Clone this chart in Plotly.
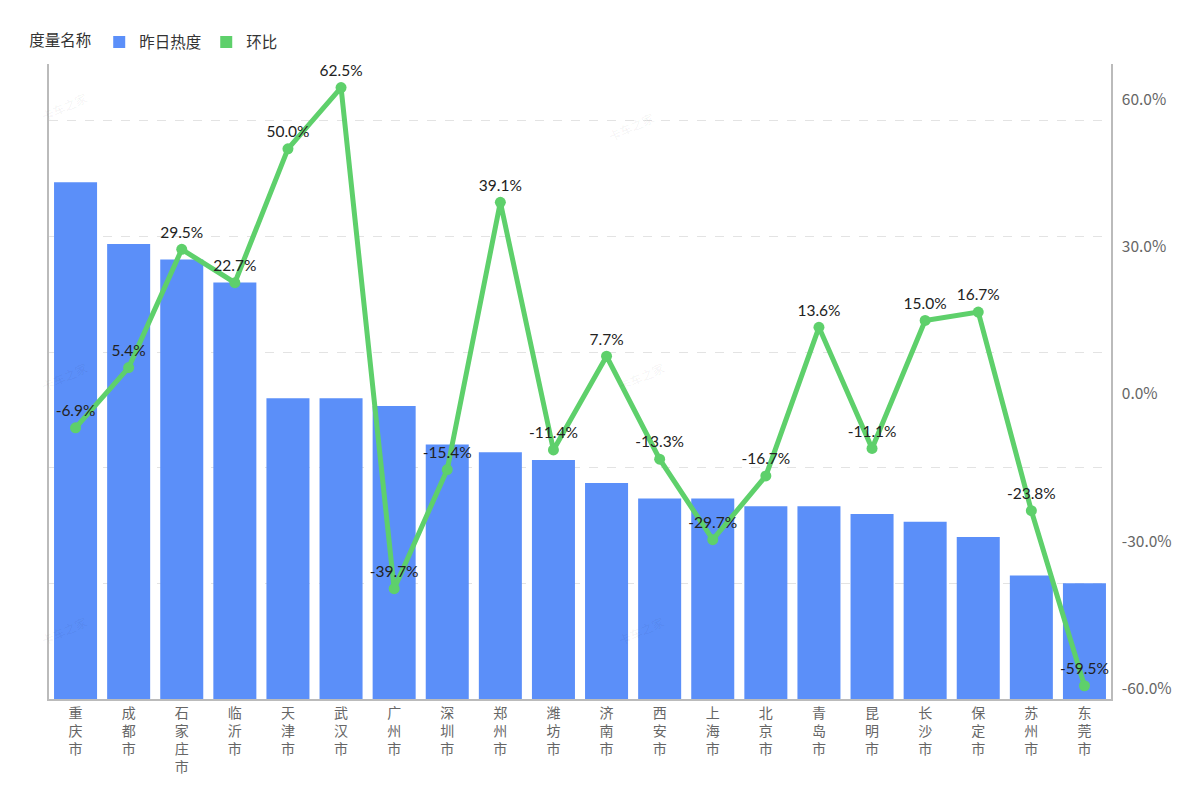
import plotly.graph_objects as go

cities = ["重庆市", "成都市", "石家庄市", "临沂市", "天津市", "武汉市", "广州市", "深圳市", "郑州市", "潍坊市",
          "济南市", "西安市", "上海市", "北京市", "青岛市", "昆明市", "长沙市", "保定市", "苏州市", "东莞市"]
heat = [67, 59, 57, 54, 39, 39, 38, 33, 32, 31, 28, 26, 26, 25, 25, 24, 23, 21, 16, 15]
mom = [-6.9, 5.4, 29.5, 22.7, 50.0, 62.5, -39.7, -15.4, 39.1, -11.4,
       7.7, -13.3, -29.7, -16.7, 13.6, -11.1, 15.0, 16.7, -23.8, -59.5]
right_ticks = [60, 30, 0, -30, -60]

BLUE = "#5B8FF9"
GREEN = "#5ED06B"
FONT = "Noto Sans CJK SC"

tick_text = ["<br>".join(list(c)) for c in cities]

fig = go.Figure()
fig.add_trace(go.Bar(x=cities, y=heat, marker=dict(color=BLUE, line=dict(width=0)),
                     name="昨日热度", showlegend=False, yaxis="y"))
fig.add_trace(go.Scatter(x=cities, y=mom, mode="lines+markers+text", yaxis="y2",
                         line=dict(color=GREEN, width=5), marker=dict(color=GREEN, size=11),
                         text=[f"{v:.1f}%" for v in mom], textposition="top center",
                         textfont=dict(size=15.5, color="#222", family="Lato"),
                         name="环比", showlegend=False, cliponaxis=False))
# legend entries
fig.add_trace(go.Scatter(x=[cities[0]], y=[None], mode="markers", name="昨日热度",
                         marker=dict(symbol="square", size=13, color=BLUE)))
fig.add_trace(go.Scatter(x=[cities[0]], y=[None], mode="markers", name="环比",
                         marker=dict(symbol="square", size=13, color=GREEN)))

dt = 15
L, R, T, B = 41, 97, 56, 109
fig.update_layout(
    width=1200, height=800,
    margin=dict(l=L, r=R, t=T, b=B, autoexpand=False),
    plot_bgcolor="white", paper_bgcolor="white",
    font=dict(family=FONT, size=13, color="#333"),
    bargap=0.19,
    showlegend=True,
    legend=dict(orientation="h", xref="container", yref="container",
                x=0.016, xanchor="left", y=0.957, yanchor="middle",
                title=dict(text="度量名称", font=dict(size=15.5, color="#333")),
                font=dict(size=15.5, color="#333"), itemsizing="constant"),
    xaxis=dict(tickmode="array", tickvals=cities, ticktext=tick_text, tickangle=0,
               categoryorder="array", categoryarray=cities, range=[-0.5, 19.5],
               showline=True, linecolor="#bbb", linewidth=1.5, ticks="", automargin=False,
               tickfont=dict(size=14, color="#666"), showgrid=False),
    yaxis=dict(range=[0, dt * 5.49], dtick=dt, showticklabels=False, showgrid=True,
               gridcolor="#e3e3e3", griddash="dash", gridwidth=1, zeroline=False,
               showline=True, linecolor="#bbb", linewidth=1.5, automargin=False),
    yaxis2=dict(overlaying="y", side="right", range=[-62.2, 67.3], tickvals=right_ticks,
                ticktext=[f"{v:.1f}%" for v in right_ticks], showgrid=False, zeroline=False,
                showline=True, linecolor="#bbb", linewidth=1.5, automargin=False,
                tickfont=dict(size=15.5, color="#666"), ticklabelstandoff=6),
)

# faint watermarks (screen pixel positions converted to plot-area fractions)
pw, ph = 1200 - L - R, 800 - T - B
for (px, py) in [(35, 85), (35, 375), (630, 105), (640, 375), (35, 650), (640, 650)]:
    fig.add_annotation(text="卡车之家", x=(px - 7 - L) / pw, y=1 - (py - 7 - T) / ph,
                       xref="paper", yref="paper", showarrow=False, textangle=-25,
                       font=dict(size=12, color="rgba(0,0,0,0.06)"))

fig.write_html("out.html")
